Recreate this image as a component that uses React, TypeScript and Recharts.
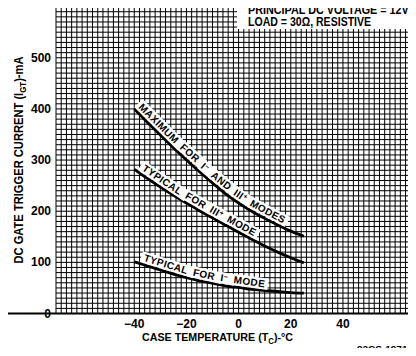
import React from 'react';
import { LineChart, Line, XAxis, YAxis, CartesianGrid, ReferenceDot } from 'recharts';

// Case temperature (°C)
const temperatures = [-40, -35, -30, -25, -20, -15, -10, -5, 0, 5, 10, 15, 20, 25];
// DC gate trigger current (mA)
const maxIminusIIIplus = [400, 374, 349, 324, 300, 277, 255, 234, 216, 200, 186, 173, 161, 151];
const typicalIIIplus = [282, 264, 247, 231, 216, 201, 187, 173, 159, 145, 132, 120, 109, 99];
const typicalIminus = [101, 93, 85, 77, 70, 64, 59, 54, 51, 47, 45, 43, 41, 40];

const xTicks = [-40, -20, 0, 20, 40];
const yTicks = [0, 100, 200, 300, 400, 500];
const xDomain: [number, number] = [-70, 68];
const yDomain: [number, number] = [0, 610];

const xGrid: number[] = [];
for (let v = xDomain[0]; v <= xDomain[1]; v += 2) xGrid.push(v);
const yGrid: number[] = [];
for (let v = yDomain[0]; v <= yDomain[1]; v += 10) yGrid.push(v);

const data = temperatures.map((t, i) => ({
  t,
  max: maxIminusIIIplus[i],
  typ3: typicalIIIplus[i],
  typ1: typicalIminus[i],
}));

// curve annotations: words placed along each curve (anchor in data coords)
const curveWords = [
  { text: 'MAXIMUM', sup: '', x: -39.5, y: 397.4, angle: 45, band: 58.7, first: true },
  { text: 'FOR', sup: '', x: -23.7, y: 318, angle: 41.5, band: 29.3 },
  { text: 'I', sup: '−', x: -15.7, y: 280.2, angle: 40.5, band: 14.7 },
  { text: 'AND', sup: '', x: -11.7, y: 262.5, angle: 38.5, band: 29.9 },
  { text: 'III', sup: '+', x: -3, y: 226.8, angle: 34, band: 21 },
  { text: 'MODES', sup: '', x: 3.4, y: 205, angle: 28, band: 41.7 },
  { text: 'TYPICAL', sup: '', x: -38, y: 274.8, angle: 34, band: 52.6, first: true },
  { text: 'FOR', sup: '', x: -21.4, y: 220.2, angle: 30.5, band: 29.3 },
  { text: 'III', sup: '+', x: -12.05, y: 192.7, angle: 29.5, band: 21 },
  { text: 'MODE', sup: '', x: -5.4, y: 174.1, angle: 28.5, band: 34.6 },
  { text: 'TYPICAL', sup: '', x: -37, y: 96.2, angle: 17, band: 52.6, first: true },
  { text: 'FOR', sup: '', x: -18, y: 67.6, angle: 12.5, band: 29.3 },
  { text: 'I', sup: '−', x: -7.4, y: 56.4, angle: 9.5, band: 14.7 },
  { text: 'MODE', sup: '', x: -2.2, y: 52.7, angle: 8, band: 34.6 },
];

const FONT = '"Liberation Sans", Arial, Helvetica, sans-serif';

const XTick = (props: any) => {
  const { x, y, payload } = props;
  const v = payload.value;
  const label = v < 0 ? `−${Math.abs(v)}` : `${v}`;
  return (
    <text x={x} y={y + 14} textAnchor="middle" fontFamily={FONT} fontWeight="bold" fontSize={12} fill="#000">
      {label}
    </text>
  );
};

const YTick = (props: any) => {
  const { x, y, payload } = props;
  return (
    <text x={x - 5} y={y + 4} textAnchor="end" fontFamily={FONT} fontWeight="bold" fontSize={12} fill="#000">
      {payload.value}
    </text>
  );
};

const makeWordShape = (w: { text: string; sup: string; angle: number; band: number; first?: boolean }) => (props: any) => {
  const { cx, cy } = props;
  const x0 = w.first ? -3 : -1.5;
  return (
    <g transform={`translate(${cx},${cy}) rotate(${w.angle})`}>
      <rect x={x0} y={-12.8} width={w.band - x0} height={11.4} fill="#fff" />
      <text x={0} y={-3.6} fontFamily={FONT} fontWeight="bold" fontSize={10} letterSpacing={0.4} fill="#000">
        {w.text}
        {w.sup ? (
          <tspan dy={-3} fontSize={7}>
            {w.sup}
          </tspan>
        ) : null}
      </text>
    </g>
  );
};

export default function App() {
  return (
    <div style={{ position: 'relative', width: 416, height: 356, margin: -8, background: '#fff' }}>
      <LineChart
        width={416}
        height={356}
        data={data}
        margin={{ top: 1.5, right: 0, bottom: 0, left: 0 }}
      >
        <CartesianGrid
          stroke="#000"
          strokeWidth={1}
          horizontalValues={yGrid}
          verticalValues={xGrid}
        />
        <XAxis
          dataKey="t"
          type="number"
          domain={xDomain}
          ticks={xTicks}
          allowDataOverflow
          axisLine={false}
          tickLine={false}
          tickSize={0}
          tickMargin={0}
          height={42.5}
          tick={<XTick />}
          interval={0}
        />
        <YAxis
          type="number"
          domain={yDomain}
          ticks={yTicks}
          allowDataOverflow
          axisLine={false}
          tickLine={false}
          tickSize={0}
          tickMargin={0}
          width={56}
          tick={<YTick />}
          interval={0}
        />
        <Line type="monotone" dataKey="max" stroke="#000" strokeWidth={2.8} dot={false} isAnimationActive={false} />
        <Line type="monotone" dataKey="typ3" stroke="#000" strokeWidth={2.8} dot={false} isAnimationActive={false} />
        <Line type="monotone" dataKey="typ1" stroke="#000" strokeWidth={2.8} dot={false} isAnimationActive={false} />
        {curveWords.map((w, i) => (
          <ReferenceDot key={i} x={w.x} y={w.y} r={0} shape={makeWordShape(w)} ifOverflow="visible" />
        ))}
      </LineChart>
      <svg
        width={416}
        height={356}
        style={{ position: 'absolute', left: 0, top: 0, pointerEvents: 'none' }}
      >
        {/* frame around y-axis label area */}
        <line x1={3.5} y1={1.5} x2={3.5} y2={313.5} stroke="#000" strokeWidth={1.5} />
        <line x1={3} y1={1.5} x2={56} y2={1.5} stroke="#000" strokeWidth={1.5} />
        <line x1={3} y1={313.5} x2={416} y2={313.5} stroke="#000" strokeWidth={2.2} />
        {/* note box */}
        <rect x={237} y={0} width={179} height={29} fill="#fff" />
        <g transform="translate(248,13.5) scale(0.9,1)">
          <text x={0} y={0} fontFamily={FONT} fontWeight="bold" fontSize={12} fill="#000">
            PRINCIPAL DC VOLTAGE = 12V
          </text>
        </g>
        <g transform="translate(248,26) scale(0.88,1)">
          <text x={0} y={0} fontFamily={FONT} fontWeight="bold" fontSize={12} fill="#000">
            LOAD = 30Ω, RESISTIVE
          </text>
        </g>
        {/* y axis title */}
        <g transform="translate(23,160) rotate(-90) scale(0.93,1)">
          <text x={0} y={0} textAnchor="middle" fontFamily={FONT} fontWeight="bold" fontSize={12} fill="#000">
            DC GATE TRIGGER CURRENT (I
            <tspan dy={3} fontSize={8.5}>GT</tspan>
            <tspan dy={-3}>)-mA</tspan>
          </text>
        </g>
        {/* x axis title */}
        <g transform="translate(142,340.5) scale(0.93,1)">
          <text x={0} y={0} fontFamily={FONT} fontWeight="bold" fontSize={11.5} fill="#000">
            CASE TEMPERATURE (T
            <tspan dy={3} fontSize={8.5}>C</tspan>
            <tspan dy={-3}>)-°C</tspan>
          </text>
        </g>
        <g transform="translate(357,351.5) scale(1.05,1)">
          <text x={0} y={0} fontFamily={FONT} fontWeight="bold" fontSize={9.5} fill="#000">
            92CS-19712
          </text>
        </g>
      </svg>
    </div>
  );
}
